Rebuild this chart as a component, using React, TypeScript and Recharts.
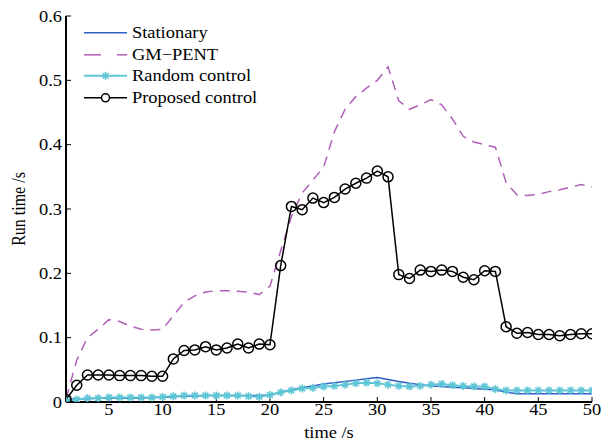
import React from 'react';
import { LineChart, Line, XAxis, YAxis, Legend } from 'recharts';

const time = [1,2,3,4,5,6,7,8,9,10,11,12,13,14,15,16,17,18,19,20,21,22,23,24,25,26,27,28,29,30,31,32,33,34,35,36,37,38,39,40,41,42,43,44,45,46,47,48,49,50];

const stationary = [0.004,0.005,0.005,0.006,0.006,0.006,0.006,0.006,0.007,0.007,0.008,0.009,0.009,0.010,0.010,0.010,0.010,0.010,0.010,0.011,0.015,0.019,0.022,0.025,0.028,0.030,0.032,0.034,0.036,0.038,0.035,0.032,0.029,0.027,0.025,0.024,0.023,0.022,0.021,0.020,0.019,0.015,0.013,0.013,0.013,0.013,0.013,0.013,0.013,0.013];

const gmPent = [0.005,0.065,0.100,0.113,0.128,0.125,0.118,0.113,0.112,0.113,0.134,0.155,0.165,0.171,0.173,0.173,0.172,0.171,0.167,0.180,0.235,0.288,0.325,0.345,0.365,0.420,0.455,0.475,0.488,0.500,0.521,0.468,0.455,0.462,0.470,0.462,0.440,0.413,0.404,0.400,0.396,0.341,0.322,0.321,0.323,0.327,0.330,0.334,0.338,0.334];

const randomControl = [0.002,0.004,0.006,0.006,0.007,0.007,0.007,0.007,0.007,0.008,0.009,0.010,0.010,0.010,0.010,0.010,0.010,0.009,0.008,0.011,0.015,0.018,0.021,0.022,0.024,0.025,0.027,0.029,0.030,0.029,0.027,0.025,0.024,0.025,0.027,0.028,0.026,0.025,0.024,0.024,0.020,0.018,0.018,0.018,0.018,0.018,0.018,0.018,0.018,0.018];

const proposed = [0.004,0.026,0.042,0.042,0.042,0.041,0.041,0.041,0.040,0.040,0.067,0.080,0.081,0.086,0.081,0.084,0.090,0.084,0.090,0.089,0.212,0.304,0.299,0.317,0.310,0.318,0.331,0.340,0.348,0.359,0.350,0.198,0.192,0.205,0.203,0.205,0.203,0.194,0.190,0.204,0.203,0.117,0.107,0.108,0.105,0.105,0.103,0.105,0.106,0.106];

const xTicks = [5,10,15,20,25,30,35,40,45,50];
const yTicks = [0,0.1,0.2,0.3,0.4,0.5,0.6];
const yTickLabels = ['0','0.1','0.2','0.3','0.4','0.5','0.6'];
const seriesNames = ['Stationary','GM\u2212PENT','Random control','Proposed control'];

const C_STAT = '#2f5fc0';
const C_GM = '#b060b8';
const C_RAND = '#5ec6d6';
const C_PROP = '#000000';

const data = time.map((t, i) => ({
  t,
  stationary: stationary[i],
  gm: gmPent[i],
  random: randomControl[i],
  proposed: proposed[i],
}));

const FONT = "Liberation Serif, Times New Roman, serif";
const FS = 16;
const SX = 1.15;

const StarDot = (props: any) => {
  const { cx, cy } = props;
  if (cx == null || cy == null) return null;
  const r = 4;
  const d = r * 0.72;
  return (
    <g stroke={C_RAND} strokeWidth={1.6}>
      <line x1={cx - r} y1={cy} x2={cx + r} y2={cy} />
      <line x1={cx} y1={cy - r} x2={cx} y2={cy + r} />
      <line x1={cx - d} y1={cy - d} x2={cx + d} y2={cy + d} />
      <line x1={cx - d} y1={cy + d} x2={cx + d} y2={cy - d} />
    </g>
  );
};

const CircleDot = (props: any) => {
  const { cx, cy } = props;
  if (cx == null || cy == null) return null;
  return <circle cx={cx} cy={cy} r={5} fill="none" stroke={C_PROP} strokeWidth={1.5} />;
};

const emptyTick = () => <g />;

const XTick = (props: any) => {
  const { x, y, payload } = props;
  return (
    <text
      transform={`translate(${x},${y}) scale(${SX},1)`}
      textAnchor="middle"
      dy="0.71em"
      fontFamily={FONT}
      fontSize={FS}
      fill="#000"
    >
      {payload.value}
    </text>
  );
};

const YTick = (props: any) => {
  const { x, y, payload } = props;
  const idx = yTicks.indexOf(payload.value);
  const label = idx >= 0 ? yTickLabels[idx] : String(payload.value);
  return (
    <text
      transform={`translate(${x},${y}) scale(${SX},1)`}
      textAnchor="end"
      dy="0.355em"
      fontFamily={FONT}
      fontSize={FS}
      fill="#000"
    >
      {label}
    </text>
  );
};

const renderLegend = () => {
  const rowH = 21.7;
  const rows = [
    { name: seriesNames[0], kind: 'stat' },
    { name: seriesNames[1], kind: 'gm' },
    { name: seriesNames[2], kind: 'rand' },
    { name: seriesNames[3], kind: 'prop' },
  ];
  return (
    <div style={{ fontFamily: FONT, fontSize: FS, color: '#000' }}>
      {rows.map((r) => (
        <div key={r.name} style={{ display: 'flex', alignItems: 'center', height: rowH, whiteSpace: 'nowrap' }}>
          <svg width={43} height={rowH} style={{ display: 'block' }}>
            {r.kind === 'stat' && <line x1={0} y1={rowH / 2} x2={43} y2={rowH / 2} stroke={C_STAT} strokeWidth={1.5} />}
            {r.kind === 'gm' && (
              <g stroke={C_GM} strokeWidth={1.5}>
                <line x1={0} y1={rowH / 2} x2={17} y2={rowH / 2} />
                <line x1={33} y1={rowH / 2} x2={43} y2={rowH / 2} />
              </g>
            )}
            {r.kind === 'rand' && (
              <g>
                <line x1={0} y1={rowH / 2} x2={43} y2={rowH / 2} stroke={C_RAND} strokeWidth={2} />
                <StarDot cx={21.5} cy={rowH / 2} />
              </g>
            )}
            {r.kind === 'prop' && (
              <g>
                <line x1={0} y1={rowH / 2} x2={43} y2={rowH / 2} stroke={C_PROP} strokeWidth={1.5} />
                <circle cx={21.5} cy={rowH / 2} r={4} fill="#fff" stroke={C_PROP} strokeWidth={1.5} />
              </g>
            )}
          </svg>
          <span
            style={{
              marginLeft: 5,
              lineHeight: `${rowH}px`,
              display: 'inline-block',
              transform: `scaleX(${SX})`,
              transformOrigin: 'left center',
            }}
          >
            {r.name}
          </span>
        </div>
      ))}
    </div>
  );
};

const axisLine = { stroke: '#000', strokeWidth: 2 };
const tickLine = { stroke: '#000', strokeWidth: 1 };

export default function App() {
  return (
    <div style={{ position: 'absolute', left: 0, top: 0, width: 602, height: 444, background: '#fff', fontFamily: FONT }}>
      <LineChart
        width={602}
        height={444}
        data={data}
        margin={{ top: 16, right: 10, bottom: 0, left: 0 }}
      >
        <XAxis
          dataKey="t"
          type="number"
          domain={[1, 50]}
          ticks={xTicks}
          allowDataOverflow
          height={42}
          tickSize={-5}
          tickMargin={7}
          tick={<XTick />}
          axisLine={axisLine}
          tickLine={tickLine}
          label={{
            content: (p: any) => {
              const vb = p.viewBox || { x: 66, y: 402, width: 526, height: 42 };
              const cx = vb.x + vb.width / 2;
              const cy = vb.y + 36;
              return (
                <text
                  transform={`translate(${cx},${cy}) scale(${SX},1)`}
                  textAnchor="middle"
                  fontFamily={FONT}
                  fontSize={FS}
                  fill="#000"
                >
                  time /s
                </text>
              );
            },
          }}
        />
        <XAxis
          xAxisId="top"
          orientation="top"
          dataKey="t"
          type="number"
          domain={[1, 50]}
          ticks={xTicks}
          allowDataOverflow
          height={0}
          tickSize={-5}
          tick={emptyTick}
          axisLine={axisLine}
          tickLine={tickLine}
        />
        <YAxis
          type="number"
          domain={[0, 0.6]}
          ticks={yTicks}
          allowDataOverflow
          width={66}
          tickSize={-5}
          tickMargin={9}
          tick={<YTick />}
          axisLine={axisLine}
          tickLine={tickLine}
          label={{
            content: (p: any) => {
              const vb = p.viewBox || { x: 0, y: 16, width: 66, height: 386 };
              const cx = vb.x + 25;
              const cy = vb.y + vb.height / 2;
              return (
                <text
                  transform={`translate(${cx},${cy}) scale(${SX},1) rotate(-90)`}
                  textAnchor="middle"
                  fontFamily={FONT}
                  fontSize={FS}
                  fill="#000"
                >
                  Run time /s
                </text>
              );
            },
          }}
        />
        <YAxis
          yAxisId="right"
          orientation="right"
          type="number"
          domain={[0, 0.6]}
          ticks={yTicks}
          allowDataOverflow
          width={0}
          tickSize={-5}
          tick={emptyTick}
          axisLine={axisLine}
          tickLine={tickLine}
        />
        <Legend
          layout="vertical"
          align="center"
          verticalAlign="middle"
          content={renderLegend}
          wrapperStyle={{ left: 84, top: 22, width: 'auto', height: 'auto' }}
        />
        <Line
          name={seriesNames[0]}
          dataKey="stationary"
          type="linear"
          stroke={C_STAT}
          strokeWidth={1.5}
          dot={false}
          activeDot={false}
          isAnimationActive={false}
        />
        <Line
          name={seriesNames[1]}
          dataKey="gm"
          type="linear"
          stroke={C_GM}
          strokeWidth={1.5}
          strokeDasharray="10 7"
          dot={false}
          activeDot={false}
          isAnimationActive={false}
        />
        <Line
          name={seriesNames[2]}
          dataKey="random"
          type="linear"
          stroke={C_RAND}
          strokeWidth={2}
          dot={<StarDot />}
          activeDot={false}
          isAnimationActive={false}
        />
        <Line
          name={seriesNames[3]}
          dataKey="proposed"
          type="linear"
          stroke={C_PROP}
          strokeWidth={1.5}
          dot={<CircleDot />}
          activeDot={false}
          isAnimationActive={false}
        />
      </LineChart>
    </div>
  );
}
